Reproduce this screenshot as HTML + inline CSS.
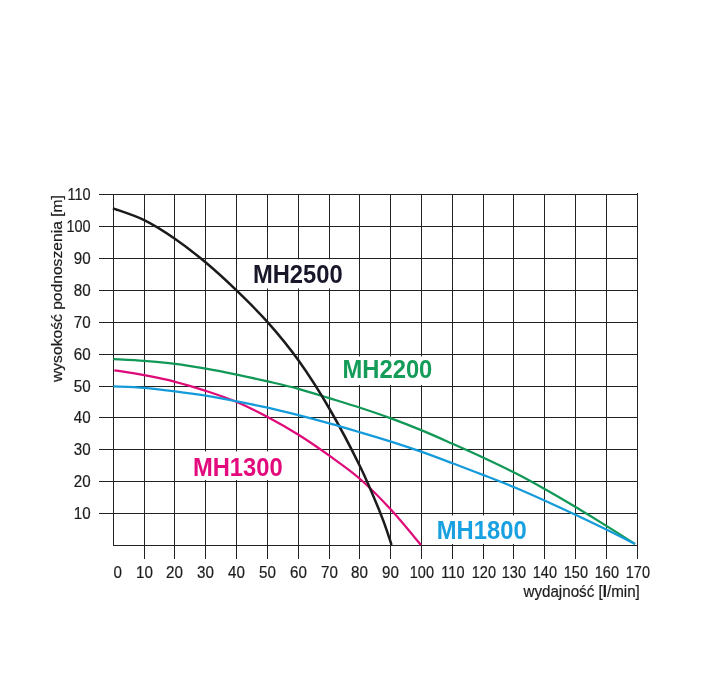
<!DOCTYPE html>
<html lang="pl">
<head>
<meta charset="utf-8">
<title>MH – charakterystyka pomp</title>
<style>
html,body{margin:0;padding:0;background:#fff;}
body{width:708px;height:676px;overflow:hidden;}
svg{display:block;}
</style>
</head>
<body>
<svg width="708" height="676" viewBox="0 0 708 676">
<rect width="708" height="676" fill="#ffffff"/>
<g stroke="#222222" stroke-width="1" fill="none" stroke-linecap="butt" shape-rendering="crispEdges">
<line x1="99" y1="194.50" x2="638.00" y2="194.50"/>
<line x1="99" y1="226.50" x2="638.00" y2="226.50"/>
<line x1="99" y1="258.50" x2="638.00" y2="258.50"/>
<line x1="99" y1="290.50" x2="638.00" y2="290.50"/>
<line x1="99" y1="322.50" x2="638.00" y2="322.50"/>
<line x1="99" y1="354.50" x2="638.00" y2="354.50"/>
<line x1="99" y1="386.50" x2="638.00" y2="386.50"/>
<line x1="99" y1="417.50" x2="638.00" y2="417.50"/>
<line x1="99" y1="449.50" x2="638.00" y2="449.50"/>
<line x1="99" y1="481.50" x2="638.00" y2="481.50"/>
<line x1="99" y1="513.50" x2="638.00" y2="513.50"/>
<line x1="113.00" y1="545.50" x2="638.00" y2="545.50"/>
<line x1="113.50" y1="194.00" x2="113.50" y2="546.00"/>
<line x1="144.50" y1="194.00" x2="144.50" y2="559.00"/>
<line x1="174.50" y1="194.00" x2="174.50" y2="559.00"/>
<line x1="205.50" y1="194.00" x2="205.50" y2="559.00"/>
<line x1="236.50" y1="194.00" x2="236.50" y2="559.00"/>
<line x1="267.50" y1="194.00" x2="267.50" y2="559.00"/>
<line x1="298.50" y1="194.00" x2="298.50" y2="559.00"/>
<line x1="329.50" y1="194.00" x2="329.50" y2="559.00"/>
<line x1="359.50" y1="194.00" x2="359.50" y2="559.00"/>
<line x1="390.50" y1="194.00" x2="390.50" y2="559.00"/>
<line x1="421.50" y1="194.00" x2="421.50" y2="559.00"/>
<line x1="452.50" y1="194.00" x2="452.50" y2="559.00"/>
<line x1="483.50" y1="194.00" x2="483.50" y2="559.00"/>
<line x1="513.50" y1="194.00" x2="513.50" y2="559.00"/>
<line x1="544.50" y1="194.00" x2="544.50" y2="559.00"/>
<line x1="575.50" y1="194.00" x2="575.50" y2="559.00"/>
<line x1="606.50" y1="194.00" x2="606.50" y2="559.00"/>
<line x1="637.50" y1="193.00" x2="637.50" y2="559.00"/>
</g>
<rect x="245.0" y="259.3" width="105.0" height="29.1" fill="#ffffff"/>
<rect x="336.0" y="356.5" width="104.0" height="28.5" fill="#ffffff"/>
<rect x="184.0" y="451.4" width="106.0" height="28.6" fill="#ffffff"/>
<rect x="429.0" y="515.4" width="106.0" height="28.6" fill="#ffffff"/>
<path d="M113.40 359.10 C118.53 359.40 133.92 360.12 144.20 360.90 C154.48 361.68 164.82 362.52 175.10 363.80 C185.38 365.08 195.62 366.80 205.90 368.60 C216.18 370.40 226.52 372.47 236.80 374.60 C247.08 376.73 257.33 379.03 267.60 381.40 C277.87 383.77 288.12 386.00 298.40 388.80 C308.68 391.60 319.02 395.03 329.30 398.20 C339.58 401.37 349.82 404.43 360.10 407.80 C370.38 411.17 380.72 414.63 391.00 418.40 C401.28 422.17 411.53 426.17 421.80 430.40 C432.07 434.63 442.32 439.25 452.60 443.80 C462.88 448.35 473.22 452.90 483.50 457.70 C493.78 462.50 504.03 467.33 514.30 472.60 C524.57 477.87 534.82 483.52 545.10 489.30 C555.38 495.08 565.72 501.17 576.00 507.30 C586.28 513.43 596.97 519.98 606.80 526.10 C616.63 532.22 630.30 541.02 635.00 544.00" fill="none" stroke="#119856" stroke-width="2.25" stroke-linecap="butt" stroke-linejoin="round"/>
<path d="M114.30 370.30 C119.28 371.12 134.07 373.28 144.20 375.20 C154.33 377.12 164.82 379.18 175.10 381.80 C185.38 384.42 195.62 387.53 205.90 390.90 C216.18 394.27 226.52 397.65 236.80 402.00 C247.08 406.35 257.32 411.53 267.60 417.00 C277.88 422.47 288.22 428.35 298.50 434.80 C308.78 441.25 319.03 448.33 329.30 455.70 C339.57 463.07 349.88 470.07 360.10 479.00 C370.32 487.93 380.45 498.30 390.60 509.30 C400.75 520.30 415.93 539.05 421.00 545.00" fill="none" stroke="#de0a78" stroke-width="2.25" stroke-linecap="butt" stroke-linejoin="round"/>
<path d="M112.90 208.30 C118.12 210.27 133.93 215.07 144.20 220.10 C154.47 225.13 164.28 231.47 174.50 238.50 C184.72 245.53 195.17 253.65 205.50 262.30 C215.83 270.95 226.15 280.43 236.50 290.40 C246.85 300.37 257.28 310.45 267.60 322.10 C277.92 333.75 288.12 345.90 298.40 360.30 C308.68 374.70 319.02 390.80 329.30 408.50 C339.58 426.20 351.58 449.06 360.10 466.50 C368.62 483.94 375.70 501.73 380.40 513.15 C385.10 524.57 386.45 529.69 388.30 535.00 C390.15 540.31 390.97 543.33 391.50 545.00" fill="none" stroke="#1c1a1d" stroke-width="2.5" stroke-linecap="butt" stroke-linejoin="round"/>
<path d="M113.40 386.40 C118.53 386.63 133.92 386.98 144.20 387.80 C154.48 388.62 164.82 389.98 175.10 391.30 C185.38 392.62 195.62 394.02 205.90 395.70 C216.18 397.38 226.52 399.40 236.80 401.40 C247.08 403.40 257.33 405.40 267.60 407.70 C277.87 410.00 288.12 412.58 298.40 415.20 C308.68 417.82 319.02 420.55 329.30 423.40 C339.58 426.25 349.82 429.27 360.10 432.30 C370.38 435.33 380.72 438.33 391.00 441.60 C401.28 444.87 411.53 448.28 421.80 451.90 C432.07 455.52 442.32 459.43 452.60 463.30 C462.88 467.17 473.22 471.10 483.50 475.10 C493.78 479.10 504.03 483.02 514.30 487.30 C524.57 491.58 534.82 496.18 545.10 500.80 C555.38 505.42 565.72 510.17 576.00 515.00 C586.28 519.83 596.97 524.97 606.80 529.80 C616.63 534.63 630.30 541.63 635.00 544.00" fill="none" stroke="#159bda" stroke-width="2.25" stroke-linecap="butt" stroke-linejoin="round"/>
<g font-family="'Liberation Sans', Arial, Helvetica, sans-serif" font-weight="bold" font-size="24.9px">
<text transform="translate(252.9 283.0) scale(0.955 1)" fill="#18172a">MH2500</text>
<text transform="translate(342.5 378.0) scale(0.955 1)" fill="#149c58">MH2200</text>
<text transform="translate(192.9 475.8) scale(0.955 1)" fill="#e20a7c">MH1300</text>
<text transform="translate(436.8 538.8) scale(0.955 1)" fill="#18a0e0">MH1800</text>
</g>
<g font-family="'Liberation Sans', Arial, Helvetica, sans-serif" font-size="15.9px" fill="#1d1b1c" stroke="#1d1b1c" stroke-width="0.2">
<text transform="translate(90.6 199.70) scale(0.912 1)" text-anchor="end">110</text>
<text transform="translate(90.6 231.70) scale(0.912 1)" text-anchor="end">100</text>
<text transform="translate(90.6 263.70) scale(0.955 1)" text-anchor="end">90</text>
<text transform="translate(90.6 295.70) scale(0.955 1)" text-anchor="end">80</text>
<text transform="translate(90.6 327.70) scale(0.955 1)" text-anchor="end">70</text>
<text transform="translate(90.6 359.70) scale(0.955 1)" text-anchor="end">60</text>
<text transform="translate(90.6 391.70) scale(0.955 1)" text-anchor="end">50</text>
<text transform="translate(90.6 422.70) scale(0.955 1)" text-anchor="end">40</text>
<text transform="translate(90.6 454.70) scale(0.955 1)" text-anchor="end">30</text>
<text transform="translate(90.6 486.70) scale(0.955 1)" text-anchor="end">20</text>
<text transform="translate(90.6 518.70) scale(0.955 1)" text-anchor="end">10</text>
<text transform="translate(117.70 578.0) scale(0.955 1)" text-anchor="middle">0</text>
<text transform="translate(144.50 578.0) scale(0.955 1)" text-anchor="middle">10</text>
<text transform="translate(174.50 578.0) scale(0.955 1)" text-anchor="middle">20</text>
<text transform="translate(205.50 578.0) scale(0.955 1)" text-anchor="middle">30</text>
<text transform="translate(236.50 578.0) scale(0.955 1)" text-anchor="middle">40</text>
<text transform="translate(267.50 578.0) scale(0.955 1)" text-anchor="middle">50</text>
<text transform="translate(298.50 578.0) scale(0.955 1)" text-anchor="middle">60</text>
<text transform="translate(329.50 578.0) scale(0.955 1)" text-anchor="middle">70</text>
<text transform="translate(359.50 578.0) scale(0.955 1)" text-anchor="middle">80</text>
<text transform="translate(390.50 578.0) scale(0.955 1)" text-anchor="middle">90</text>
<text transform="translate(421.90 578.0) scale(0.912 1)" text-anchor="middle">100</text>
<text transform="translate(452.90 578.0) scale(0.912 1)" text-anchor="middle">110</text>
<text transform="translate(483.90 578.0) scale(0.912 1)" text-anchor="middle">120</text>
<text transform="translate(513.90 578.0) scale(0.912 1)" text-anchor="middle">130</text>
<text transform="translate(544.90 578.0) scale(0.912 1)" text-anchor="middle">140</text>
<text transform="translate(575.90 578.0) scale(0.912 1)" text-anchor="middle">150</text>
<text transform="translate(606.90 578.0) scale(0.912 1)" text-anchor="middle">160</text>
<text transform="translate(637.90 578.0) scale(0.912 1)" text-anchor="middle">170</text>
<text transform="translate(639.8 596.7) scale(0.955 1)" text-anchor="end">wydajność [<tspan font-weight="bold">l</tspan>/min]</text>
<text transform="translate(62.0 382.0) rotate(-90)" font-size="14.6px" textLength="186.9" lengthAdjust="spacingAndGlyphs">wysokość podnoszenia [m]</text>
</g>
</svg>
</body>
</html>
